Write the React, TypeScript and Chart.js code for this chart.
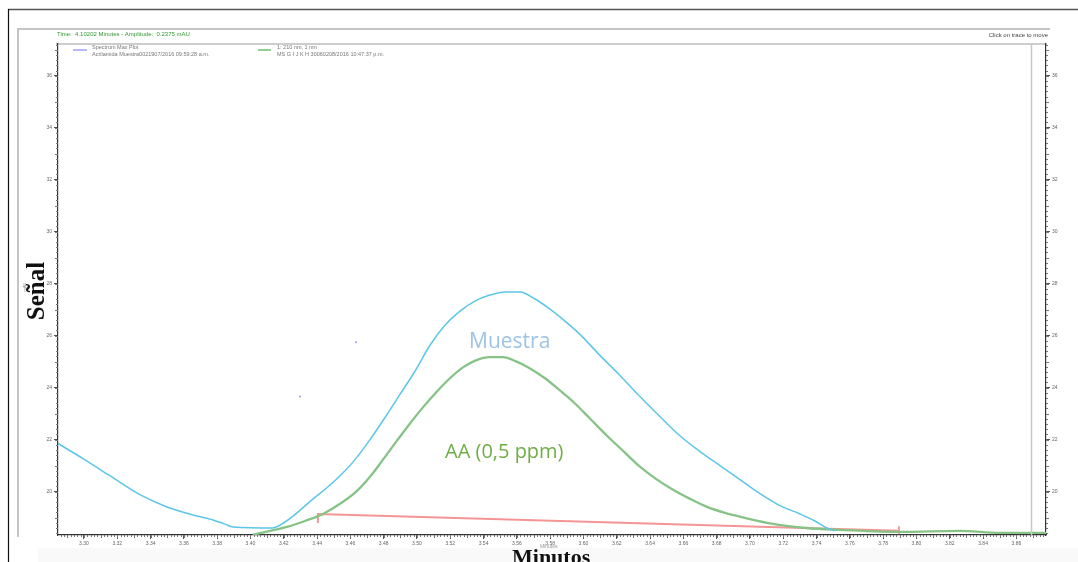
import React, { useEffect, useRef } from "react";
import { Chart, registerables } from "chart.js";

Chart.register(...registerables);

// ---- data ----
const muestraTimes = [3.2844, 3.2994, 3.3156, 3.3336, 3.3498, 3.3655, 3.3775, 3.3847, 3.3895, 3.4135, 3.4207, 3.4279, 3.4369, 3.4459, 3.4538, 3.4628, 3.4718, 3.4808, 3.4898, 3.4988, 3.5078, 3.5168, 3.5258, 3.5348, 3.5438, 3.5529, 3.5619, 3.5709, 3.5799, 3.5889, 3.5979, 3.6099, 3.6219, 3.6339, 3.6459, 3.6579, 3.67, 3.682, 3.694, 3.706, 3.718, 3.73, 3.739, 3.7462, 3.751];
const muestraValues = [21.85, 21.27, 20.61, 19.88, 19.41, 19.1, 18.91, 18.75, 18.64, 18.6, 18.83, 19.18, 19.68, 20.15, 20.61, 21.23, 22.0, 22.85, 23.74, 24.63, 25.63, 26.4, 26.94, 27.33, 27.56, 27.68, 27.68, 27.41, 27.02, 26.56, 26.05, 25.24, 24.47, 23.66, 22.89, 22.15, 21.54, 21.0, 20.46, 19.92, 19.46, 19.14, 18.87, 18.6, 18.49];

const aaTimes = [3.4015, 3.4117, 3.4219, 3.4327, 3.4435, 3.4538, 3.464, 3.4718, 3.4796, 3.488, 3.4958, 3.5036, 3.512, 3.5198, 3.5276, 3.5354, 3.5438, 3.5516, 3.5595, 3.5679, 3.5769, 3.5859, 3.5949, 3.6039, 3.6141, 3.6249, 3.6339, 3.6435, 3.6538, 3.664, 3.6742, 3.685, 3.697, 3.7138, 3.7342, 3.754, 3.7901, 3.8261, 3.8501, 3.8778];
const aaValues = [18.34, 18.49, 18.64, 18.87, 19.14, 19.53, 20.03, 20.57, 21.23, 21.96, 22.62, 23.24, 23.85, 24.36, 24.78, 25.05, 25.17, 25.17, 25.01, 24.74, 24.36, 23.89, 23.39, 22.81, 22.15, 21.5, 20.96, 20.49, 20.07, 19.72, 19.41, 19.18, 18.99, 18.76, 18.6, 18.53, 18.45, 18.49, 18.41, 18.41];

const baselineTimes = [3.4405, 3.4405, 3.7895];
const baselineValues = [18.79, 19.14, 18.49];
const baselineEndTimes = [3.7895, 3.7895];
const baselineEndValues = [18.36, 18.67];

const strayTimes = [3.4634, 3.4297];
const strayValues = [25.75, 23.66];

const xTickValues = [3.3, 3.32, 3.34, 3.36, 3.38, 3.4, 3.42, 3.44, 3.46, 3.48, 3.5, 3.52, 3.54, 3.56, 3.58, 3.6, 3.62, 3.64, 3.66, 3.68, 3.7, 3.72, 3.74, 3.76, 3.78, 3.8, 3.82, 3.84, 3.86];
const yTickValues = [20, 22, 24, 26, 28, 30, 32, 34, 36];

const X_MIN = 3.2844;
const X_MAX = 3.8778;
const Y_MIN = 18.33;
const Y_MAX = 37.22;
const CURSOR_TIME = 3.8688;

const pts = (xs: number[], ys: number[]) => xs.map((x, i) => ({ x, y: ys[i] }));

const SMALL = "'Liberation Sans', Arial, sans-serif";

const decorations = {
  id: "decorations",
  beforeDraw(chart: any) {
    const ctx = chart.ctx as CanvasRenderingContext2D;
    ctx.save();
    ctx.fillStyle = "#ffffff";
    ctx.fillRect(0, 0, chart.width, chart.height);
    ctx.fillStyle = "#f9f9f9";
    ctx.fillRect(38, 548, 1040, 14);
    // outer frame
    ctx.strokeStyle = "#555";
    ctx.lineWidth = 1.5;
    ctx.beginPath();
    ctx.moveTo(8, 9.5);
    ctx.lineTo(1078, 9.5);
    ctx.stroke();
    ctx.strokeStyle = "#111";
    ctx.lineWidth = 1.2;
    ctx.beginPath();
    ctx.moveTo(8.5, 9);
    ctx.lineTo(8.5, 562);
    ctx.stroke();
    // inner grey frame
    ctx.strokeStyle = "#c4c4c4";
    ctx.lineWidth = 2;
    ctx.beginPath();
    ctx.moveTo(17, 29);
    ctx.lineTo(1050, 29);
    ctx.moveTo(18, 29);
    ctx.lineTo(18, 537);
    ctx.stroke();
    ctx.strokeStyle = "#bdbdbd";
    ctx.lineWidth = 1.5;
    ctx.beginPath();
    ctx.moveTo(56, 44);
    ctx.lineTo(1047, 44);
    ctx.stroke();
    ctx.restore();
  },
  afterDraw(chart: any) {
    const ctx = chart.ctx as CanvasRenderingContext2D;
    const xs = chart.scales.x;
    const ys = chart.scales.y;
    const area = chart.chartArea;
    ctx.save();

    // cursor line
    const cx = Math.round(xs.getPixelForValue(CURSOR_TIME)) + 0.5;
    ctx.strokeStyle = "#c8c8c8";
    ctx.lineWidth = 1.5;
    ctx.beginPath();
    ctx.moveTo(cx, area.top);
    ctx.lineTo(cx, area.bottom);
    ctx.stroke();

    // minor ticks
    ctx.strokeStyle = "#777";
    ctx.lineWidth = 1;
    ctx.beginPath();
    for (let k = Math.ceil(X_MIN / 0.002); k * 0.002 <= X_MAX; k++) {
      const v = k * 0.002;
      const px = Math.round(xs.getPixelForValue(v)) + 0.5;
      const len = k % 5 === 0 ? 3 : 2;
      ctx.moveTo(px, area.bottom);
      ctx.lineTo(px, area.bottom + len);
    }
    for (let k = Math.ceil(Y_MIN / 0.2); k * 0.2 <= Y_MAX; k++) {
      const py = Math.round(ys.getPixelForValue(k * 0.2)) + 0.5;
      const len = k % 5 === 0 ? 3 : 2;
      ctx.moveTo(area.left, py);
      ctx.lineTo(area.left - len, py);
      ctx.moveTo(area.right, py);
      ctx.lineTo(area.right + len, py);
    }
    ctx.stroke();

    // header texts
    ctx.textBaseline = "middle";
    ctx.font = `6px ${SMALL}`;
    ctx.fillStyle = "#2f9a2f";
    ctx.textAlign = "left";
    ctx.fillText("Time:  4.10202 Minutes - Amplitude:  0.2375 mAU", 57, 34);
    ctx.fillStyle = "#444";
    ctx.textAlign = "right";
    ctx.fillText("Click on trace to move", 1048, 35);

    // legend
    ctx.textAlign = "left";
    ctx.lineWidth = 1.2;
    ctx.strokeStyle = "#8a8af0";
    ctx.beginPath();
    ctx.moveTo(73, 50);
    ctx.lineTo(87, 50);
    ctx.stroke();
    ctx.strokeStyle = "#4caf50";
    ctx.beginPath();
    ctx.moveTo(258, 50);
    ctx.lineTo(271, 50);
    ctx.stroke();
    ctx.fillStyle = "#777";
    ctx.font = `5.5px ${SMALL}`;
    ctx.fillText("Spectrum Max Plot", 92, 47);
    ctx.fillText("Acrilamida Muestra0021907/2016 09:59:28 a.m.", 92, 54);
    ctx.fillText("1: 210 nm, 1 nm", 277, 47);
    ctx.fillText("MS G I J K H 30060208/2016 10:47:37 p.m.", 277, 54);

    // series annotations
    ctx.font = "21px 'Open Sans', 'Noto Sans', sans-serif";
    ctx.textBaseline = "alphabetic";
    ctx.fillStyle = "#9dc3e6";
    ctx.fillText("Muestra", 469, 348);
    ctx.fillStyle = "#70ad47";
    ctx.font = "20px 'Open Sans', 'Noto Sans', sans-serif";
    ctx.fillText("AA (0,5 ppm)", 445, 458);

    // axis titles
    ctx.fillStyle = "#111";
    ctx.font = "bold 25px 'Liberation Serif', 'DejaVu Serif', serif";
    ctx.save();
    ctx.translate(44, 291);
    ctx.rotate(-Math.PI / 2);
    ctx.textAlign = "center";
    ctx.fillText("Señal", 0, 0);
    ctx.restore();
    ctx.save();
    ctx.translate(26, 287);
    ctx.rotate(-Math.PI / 2);
    ctx.textAlign = "center";
    ctx.fillStyle = "#888";
    ctx.font = `4px ${SMALL}`;
    ctx.fillText("mAU", 0, 0);
    ctx.restore();

    ctx.fillStyle = "#999";
    ctx.font = `5px ${SMALL}`;
    ctx.textAlign = "left";
    ctx.fillText("Minutes", 540, 548);
    ctx.fillStyle = "#111";
    ctx.font = "bold 22px 'Liberation Serif', 'DejaVu Serif', serif";
    ctx.fillText("Minutos", 512, 564);

    ctx.restore();
  },
};

const tickFont = { size: 5, family: SMALL };

function makeY(position: "left" | "right", width: number) {
  return {
    type: "linear" as const,
    position,
    min: Y_MIN,
    max: Y_MAX,
    afterBuildTicks: (s: any) => {
      s.ticks = yTickValues.map((v) => ({ value: v }));
    },
    afterFit: (s: any) => {
      s.width = width;
    },
    ticks: {
      autoSkip: false,
      font: tickFont,
      color: "#666",
      padding: 2,
      callback: (v: any) => String(v),
    },
    grid: { drawOnChartArea: false, drawTicks: true, tickLength: 4, color: "#555" },
    border: { display: true, color: "#333", width: 1.2 },
  };
}

export default function App() {
  const ref = useRef<HTMLCanvasElement>(null);
  useEffect(() => {
    if (!ref.current) return;
    const chart = new Chart(ref.current, {
      type: "line",
      data: {
        datasets: [
          {
            label: "Muestra",
            data: pts(muestraTimes, muestraValues),
            borderColor: "#5cc6e8",
            borderWidth: 1.5,
            pointRadius: 0,
            cubicInterpolationMode: "monotone",
            yAxisID: "y",
          },
          {
            label: "AA (0,5 ppm)",
            data: pts(aaTimes, aaValues),
            borderColor: "#86c386",
            borderWidth: 2.3,
            pointRadius: 0,
            cubicInterpolationMode: "monotone",
            yAxisID: "y",
          },
          {
            label: "stray",
            data: pts(strayTimes, strayValues),
            showLine: false,
            pointRadius: 1,
            pointBackgroundColor: "#9a9af5",
            pointBorderWidth: 0,
            yAxisID: "y",
          },
          {
            label: "baseline",
            data: pts(baselineTimes, baselineValues),
            borderColor: "#f59494",
            borderWidth: 2,
            pointRadius: 0,
            tension: 0,
            yAxisID: "y",
          },
          {
            label: "baseline end",
            data: pts(baselineEndTimes, baselineEndValues),
            borderColor: "#f08080",
            borderWidth: 1.5,
            pointRadius: 0,
            tension: 0,
            yAxisID: "y",
          },
        ],
      },
      options: {
        animation: false,
        responsive: false,
        maintainAspectRatio: false,
        layout: { padding: { top: 44, left: 0, right: 0, bottom: 0 } },
        plugins: { legend: { display: false }, tooltip: { enabled: false } },
        scales: {
          x: {
            type: "linear",
            position: "bottom",
            min: X_MIN,
            max: X_MAX,
            afterBuildTicks: (s: any) => {
              s.ticks = xTickValues.map((v) => ({ value: v }));
            },
            afterFit: (s: any) => {
              s.height = 27;
            },
            ticks: {
              autoSkip: false,
              maxRotation: 0,
              font: tickFont,
              color: "#666",
              padding: 2,
              callback: (v: any) => Number(v).toFixed(2),
            },
            grid: { drawOnChartArea: false, drawTicks: true, tickLength: 4, color: "#555" },
            border: { display: true, color: "#333", width: 1.2 },
          },
          y: makeY("left", 58),
          y2: makeY("right", 32),
        },
      } as any,
      plugins: [decorations],
    });
    return () => chart.destroy();
  }, []);
  return (
    <div style={{ position: "absolute", left: 0, top: 0, width: 1078, height: 562, background: "#fff" }}>
      <canvas ref={ref} width={1078} height={562} style={{ display: "block", width: 1078, height: 562 }} />
    </div>
  );
}
